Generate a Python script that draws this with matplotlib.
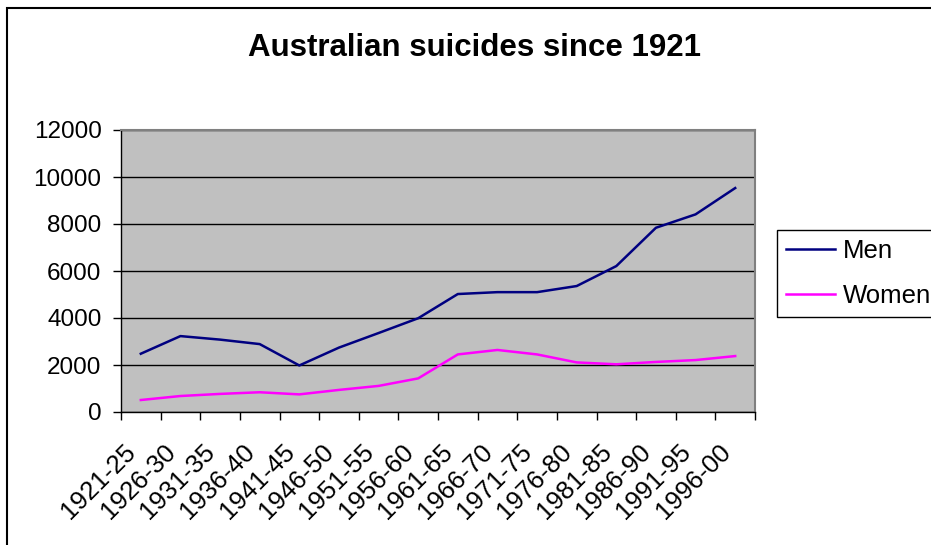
import matplotlib.pyplot as plt
from matplotlib.patches import Rectangle
import matplotlib.transforms as mtransforms

periods = ['1921-25', '1926-30', '1931-35', '1936-40', '1941-45', '1946-50',
           '1951-55', '1956-60', '1961-65', '1966-70', '1971-75', '1976-80',
           '1981-85', '1986-90', '1991-95', '1996-00']
men = [2480, 3230, 3080, 2890, 1980, 2740, 3360, 3990,
       5020, 5100, 5100, 5360, 6210, 7840, 8410, 9530]
women = [510, 680, 770, 840, 750, 940, 1110, 1430,
         2450, 2640, 2450, 2110, 2030, 2130, 2210, 2380]
yticks = [0, 2000, 4000, 6000, 8000, 10000, 12000]

plt.rcParams['font.family'] = ['Liberation Sans', 'DejaVu Sans']


def main():
    fig = plt.figure(figsize=(9.31, 5.45), dpi=100)
    # outer chart border
    fig.patches.append(Rectangle((7 / 931, -0.1), 1.2, 1 - 8 / 545 + 0.1,
                                 transform=fig.transFigure, fill=False,
                                 edgecolor='black', linewidth=1.5))

    ax = fig.add_axes([121 / 931, 1 - 412 / 545, (755 - 121) / 931, (412 - 130) / 545])
    ax.set_facecolor('#C0C0C0')

    x = [i + 0.5 for i in range(len(periods))]
    ax.plot(x, men, color='#000080', linewidth=1.8, label='Men')
    ax.plot(x, women, color='#FF00FF', linewidth=1.8, label='Women')

    ax.set_xlim(0, len(periods))
    ax.set_ylim(0, 12000)
    ax.set_yticks(yticks)
    ax.set_yticklabels([str(v) for v in yticks], fontsize=17.5)
    ax.yaxis.grid(True, color='black', linewidth=1)
    ax.set_axisbelow(True)

    # ticks at category boundaries, labels at centres
    ax.set_xticks(range(len(periods) + 1))
    ax.set_xticklabels([])
    ax.set_xticks(x, minor=True)
    ax.set_xticklabels(periods, minor=True, fontsize=18.5, rotation=45,
                       ha='right', va='top', rotation_mode='anchor')
    ax.tick_params(axis='x', which='minor', length=0, pad=20)
    ax.tick_params(axis='x', which='major', length=6, width=1, direction='out')
    ax.tick_params(axis='y', length=6, width=1, direction='out', pad=8)
    offset = mtransforms.ScaledTranslation(-17 / 100, 0, fig.dpi_scale_trans)
    for lab in ax.get_xticklabels(minor=True):
        lab.set_transform(lab.get_transform() + offset)

    for side in ['top', 'right']:
        ax.spines[side].set_color('#808080')
        ax.spines[side].set_linewidth(1.5)
    for side in ['left', 'bottom']:
        ax.spines[side].set_color('black')
        ax.spines[side].set_linewidth(1)

    fig.text(475 / 931, 1 - 48 / 545, 'Australian suicides since 1921',
             fontsize=22.5, fontweight='bold', ha='center', va='center')

    leg = fig.legend(loc='upper left', bbox_to_anchor=(777 / 931, 1 - 230 / 545),
                     fontsize=18.5, frameon=True, fancybox=False, framealpha=1,
                     edgecolor='black', handlelength=1.9, handletextpad=0.3,
                     borderpad=0.35, labelspacing=0.8, borderaxespad=0)
    leg.get_frame().set_linewidth(1)

    fig.savefig('out.png', dpi=100, facecolor='white')


if __name__ == "__main__":
    main()
